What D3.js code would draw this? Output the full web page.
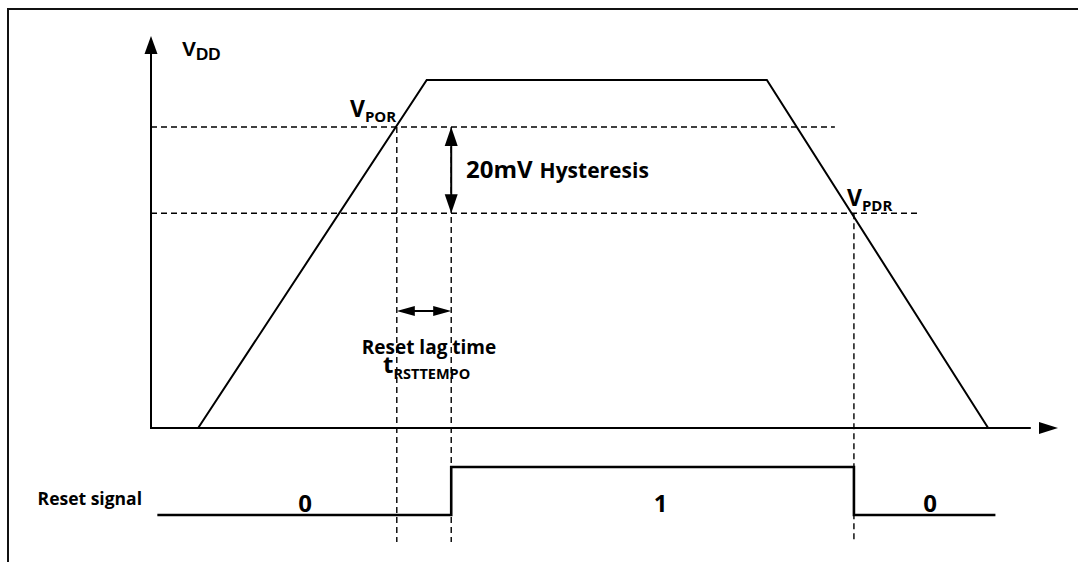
<!DOCTYPE html>
<html><head><meta charset="utf-8">
<script src="https://cdn.jsdelivr.net/npm/d3@7"></script>
<style>
html,body{margin:0;padding:0;background:#fff;}
svg{display:block;}
.cal{font-family:"Open Sans",Lato,sans-serif;font-weight:700;}
.ari{font-family:"Liberation Sans",Arial,sans-serif;font-weight:700;}
</style></head>
<body>
<svg id="chart" width="1078" height="562"></svg>
<script>
// ---- data (time and voltage in arbitrary units) ----
const vddTime  = [5.2, 30.4, 67.9, 92.3];
const vddLevel = [0, 88.8, 88.8, 0];
const thresholdNames  = ["POR", "PDR"];
const thresholdLevels = [76.8, 54.8];
const thresholdEnds   = [75.4, 84.6];
const markerTimes = [27.1, 33.1, 77.5];      // VPOR crossing, reset release, VPDR crossing
const resetTimes  = [0.7, 33.1, 33.1, 77.5, 77.5, 93.1];
const resetLevels = [0, 0, 1, 1, 0, 0];
const stateLabels = ["0", "1", "0"];
const stateTimes  = [17.0, 56.2, 85.9];
const hysteresisLabel = ["20mV", "Hysteresis"];
const lagLabel = ["Reset lag time", "t", "RSTTEMPO"];

// ---- layout ----
const svg = d3.select("#chart");
const x = d3.scaleLinear().domain([0, 100]).range([151, 1058]);
const y = d3.scaleLinear().domain([0, 100]).range([428, 36]);
const ys = d3.scaleLinear().domain([0, 1]).range([515, 467]);
const dashBottom = 542;

// frame
svg.append("rect").attr("x", 8).attr("y", 9).attr("width", 1100).attr("height", 600)
  .attr("fill", "none").attr("stroke", "#111").attr("stroke-width", 2);

function arrowHead(tipX, tipY, dir, len, half) {
  let pts;
  if (dir === "up") pts = [[tipX, tipY], [tipX - half, tipY + len], [tipX + half, tipY + len]];
  if (dir === "down") pts = [[tipX, tipY], [tipX - half, tipY - len], [tipX + half, tipY - len]];
  if (dir === "left") pts = [[tipX, tipY], [tipX + len, tipY - half], [tipX + len, tipY + half]];
  if (dir === "right") pts = [[tipX, tipY], [tipX - len, tipY - half], [tipX - len, tipY + half]];
  svg.append("polygon").attr("points", pts.map(p => p.join(",")).join(" ")).attr("fill", "#000");
}

// dashed threshold lines
thresholdLevels.forEach((v, i) => {
  svg.append("line").attr("x1", x(0)).attr("x2", x(thresholdEnds[i]))
    .attr("y1", y(v)).attr("y2", y(v))
    .attr("stroke", "#000").attr("stroke-width", 1.4).attr("stroke-dasharray", "6,4");
});
// vertical dashed markers
const markerTop = [thresholdLevels[0], thresholdLevels[0], thresholdLevels[1]];
markerTimes.forEach((t, i) => {
  svg.append("line").attr("x1", x(t)).attr("x2", x(t))
    .attr("y1", y(markerTop[i])).attr("y2", dashBottom)
    .attr("stroke", "#000").attr("stroke-width", 1.4).attr("stroke-dasharray", "6,4");
});

// axes
svg.append("line").attr("x1", x(0)).attr("x2", x(0)).attr("y1", y(0)).attr("y2", y(96))
  .attr("stroke", "#000").attr("stroke-width", 2);
arrowHead(x(0), y(100), "up", 18, 6.5);
svg.append("line").attr("x1", x(0) - 1).attr("x2", x(97)).attr("y1", y(0)).attr("y2", y(0))
  .attr("stroke", "#000").attr("stroke-width", 2);
arrowHead(x(100), y(0), "right", 19, 6);

// VDD trapezoid
const line = d3.line().x(d => x(d[0])).y(d => y(d[1]));
svg.append("path").datum(vddTime.map((t, i) => [t, vddLevel[i]]))
  .attr("d", line).attr("fill", "none").attr("stroke", "#000").attr("stroke-width", 2);

// hysteresis arrow
const hx = x(markerTimes[1]);
svg.append("line").attr("x1", hx).attr("x2", hx)
  .attr("y1", y(thresholdLevels[0]) + 10).attr("y2", y(thresholdLevels[1]) - 10)
  .attr("stroke", "#000").attr("stroke-width", 2);
arrowHead(hx, y(thresholdLevels[0]), "up", 19, 6.5);
arrowHead(hx, y(thresholdLevels[1]), "down", 19, 6.5);

// lag arrow
const lagY = 311;
svg.append("line").attr("x1", x(markerTimes[0]) + 8).attr("x2", x(markerTimes[1]) - 8)
  .attr("y1", lagY).attr("y2", lagY).attr("stroke", "#000").attr("stroke-width", 2);
arrowHead(x(markerTimes[0]), lagY, "left", 18, 5);
arrowHead(x(markerTimes[1]), lagY, "right", 18, 5);

// reset signal
const sline = d3.line().x(d => x(d[0])).y(d => ys(d[1]));
svg.append("path").datum(resetTimes.map((t, i) => [t, resetLevels[i]]))
  .attr("d", sline).attr("fill", "none").attr("stroke", "#000").attr("stroke-width", 2.6);

// texts
const vdd = svg.append("text").attr("class", "ari").attr("x", 182).attr("y", 56).attr("font-size", 21);
vdd.append("tspan").text("V");
vdd.append("tspan").attr("font-size", 17).attr("dy", 4).text("DD");

const vLabelPos = [[350, 117], [847, 206]];
thresholdNames.forEach((n, i) => {
  const t = svg.append("text").attr("class", "cal").attr("x", vLabelPos[i][0]).attr("y", vLabelPos[i][1]).attr("font-size", 23);
  t.append("tspan").text("V");
  t.append("tspan").attr("font-size", 15).attr("dy", 5).text(n);
});

const hy = svg.append("text").attr("class", "cal").attr("x", 466).attr("y", 178).attr("font-size", 24);
hy.append("tspan").text(hysteresisLabel[0]);
hy.append("tspan").attr("font-size", 21).attr("dx", 7).text(hysteresisLabel[1]);

svg.append("text").attr("class", "cal").attr("x", 429).attr("y", 354).attr("font-size", 19)
  .attr("text-anchor", "middle").text(lagLabel[0]);
const tr = svg.append("text").attr("class", "cal").attr("x", 383).attr("y", 373).attr("font-size", 24);
tr.append("tspan").text(lagLabel[1]);
tr.append("tspan").attr("font-size", 14.5).attr("dy", 6).text(lagLabel[2]);

svg.append("text").attr("class", "cal").attr("x", 142).attr("y", 505).attr("font-size", 17.5)
  .attr("text-anchor", "end").text("Reset signal");

stateLabels.forEach((s, i) => {
  svg.append("text").attr("class", "cal").attr("x", x(stateTimes[i])).attr("y", 512)
    .attr("font-size", 24).attr("text-anchor", "middle").text(s);
});
</script>
</body></html>
